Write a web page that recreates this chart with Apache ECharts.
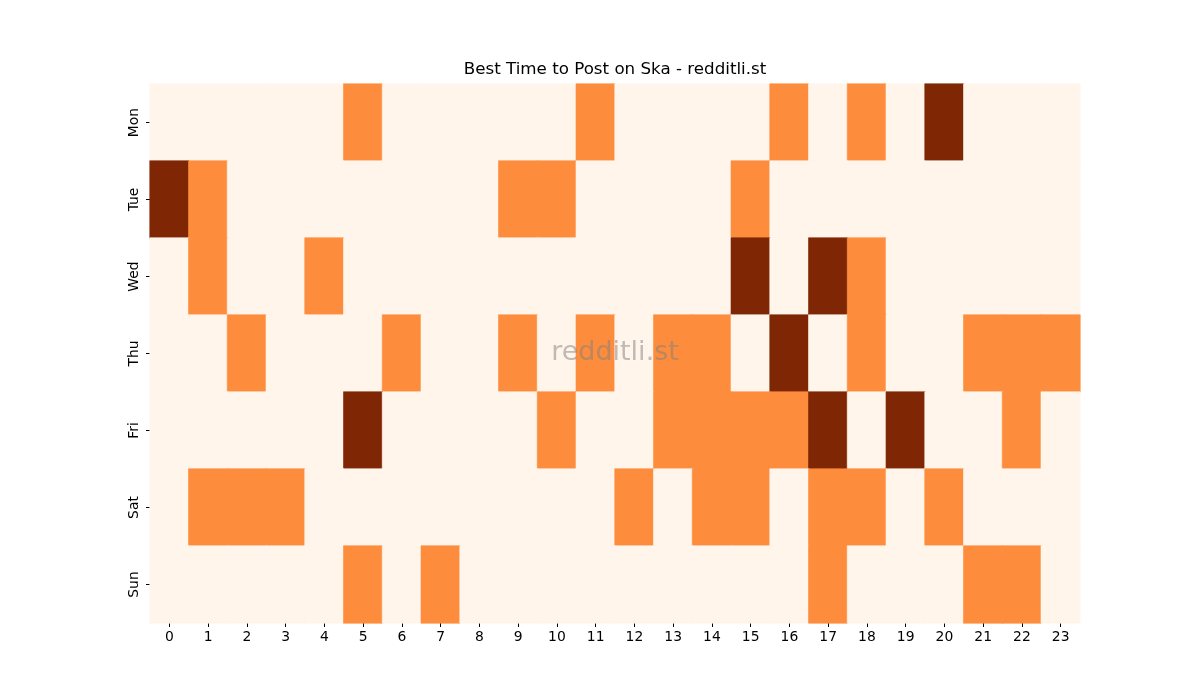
<!DOCTYPE html>
<html>
<head>
<meta charset="utf-8">
<script src="https://cdn.jsdelivr.net/npm/echarts@6/dist/echarts.min.js"></script>
<style>
  html, body { margin: 0; padding: 0; background: #fff; }
  #chart { width: 1200px; height: 700px; }
</style>
</head>
<body>
<div id="chart"></div>
<script>
// hours along the bottom, days down the side
const hours = ["0","1","2","3","4","5","6","7","8","9","10","11","12","13","14","15","16","17","18","19","20","21","22","23"];
const days = ["Mon", "Tue", "Wed", "Thu", "Fri", "Sat", "Sun"];

// activity level per hour: 0 = low, 1 = mid, 2 = best
const mon = [0,0,0,0,0,1,0,0,0,0,0,1,0,0,0,0,1,0,1,0,2,0,0,0];
const tue = [2,1,0,0,0,0,0,0,0,1,1,0,0,0,0,1,0,0,0,0,0,0,0,0];
const wed = [0,1,0,0,1,0,0,0,0,0,0,0,0,0,0,2,0,2,1,0,0,0,0,0];
const thu = [0,0,1,0,0,0,1,0,0,1,0,1,0,1,1,0,2,0,1,0,0,1,1,1];
const fri = [0,0,0,0,0,2,0,0,0,0,1,0,0,1,1,1,1,2,0,2,0,0,1,0];
const sat = [0,1,1,1,0,0,0,0,0,0,0,0,1,0,1,1,0,1,1,0,1,0,0,0];
const sun = [0,0,0,0,0,1,0,1,0,0,0,0,0,0,0,0,0,1,0,0,0,1,1,0];

// Oranges colormap at the three levels
const levelColors = ["#fff5eb", "#fd8d3c", "#7f2704"];

const rows = [mon, tue, wed, thu, fri, sat, sun];
const cells = [];
rows.forEach((row, d) => {
  row.forEach((v, h) => {
    const c = levelColors[v];
    // border in the same colour hides antialiasing seams between cells
    cells.push({ value: [h, d, v], itemStyle: { color: c, borderColor: c, borderWidth: 0.6 } });
  });
});

const chart = echarts.init(document.getElementById("chart"), null, { renderer: "canvas" });

const font = "DejaVu Sans";

chart.setOption({
  animation: false,
  backgroundColor: "#ffffff",
  grid: { left: 150, top: 84, width: 930, height: 539 },
  xAxis: {
    type: "category",
    data: hours,
    splitArea: { show: false },
    axisLine: { show: false },
    axisTick: { show: true, alignWithLabel: true, length: 4, lineStyle: { color: "#000" } },
    axisLabel: { fontFamily: font, fontSize: 13.9, color: "#000", margin: 7 },
  },
  yAxis: {
    type: "category",
    data: days,
    inverse: true,
    axisLine: { show: false },
    axisTick: { show: true, alignWithLabel: true, length: 4, lineStyle: { color: "#000" } },
    axisLabel: { fontFamily: font, fontSize: 13.9, color: "#000", rotate: 90, margin: 9 },
  },
  graphic: [
    {
      type: "text",
      x: 615,
      y: 70,
      style: {
        text: "Best Time to Post on Ska - redditli.st",
        fontFamily: font,
        fontSize: 16.7,
        fill: "#000",
        align: "center",
        verticalAlign: "middle",
      },
    },
    {
      type: "text",
      x: 615,
      y: 353,
      style: {
        text: "redditli.st",
        fontFamily: font,
        fontSize: 27,
        fill: "rgba(128,128,128,0.5)",
        align: "center",
        verticalAlign: "middle",
      },
      z: 100,
    },
  ],
  series: [
    {
      type: "heatmap",
      data: cells,
      emphasis: { disabled: true },
    },
  ],
});
</script>
</body>
</html>
